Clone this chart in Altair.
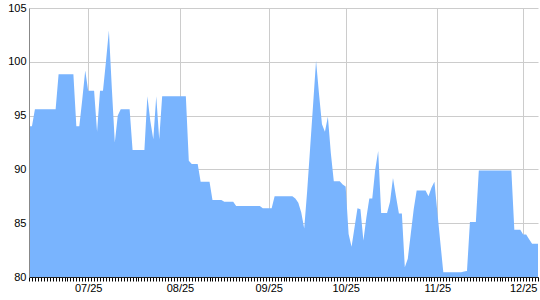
import altair as alt
import pandas as pd

values = [
    94.0, 94.0, 95.6, 95.6, 95.6, 95.6, 95.6, 95.6, 95.6, 95.6,
    98.85, 98.85, 98.85, 98.85, 98.85, 98.85, 94.0, 94.0, 96.5, 99.2,
    97.3, 97.3, 97.3, 93.5, 97.3, 97.3, 100.0, 102.9, 97.5, 92.5,
    95.0, 95.6, 95.6, 95.6, 95.6, 91.8, 91.8, 91.8, 91.8, 91.8,
    96.8, 94.5, 92.8, 96.8, 92.8, 96.8, 96.8, 96.8, 96.8, 96.8,
    96.8, 96.8, 96.8, 96.8, 90.8, 90.5, 90.5, 90.5, 88.85, 88.85,
    88.85, 88.85, 87.15, 87.15, 87.15, 87.15, 87.0, 87.0, 87.0, 87.0,
    86.6, 86.6, 86.6, 86.6, 86.6, 86.6, 86.6, 86.6, 86.6, 86.4,
    86.4, 86.4, 86.4, 87.5, 87.5, 87.5, 87.5, 87.5, 87.5, 87.5,
    87.3, 86.9, 86.0, 84.5, 88.0, 92.0, 96.0, 100.1, 97.0, 94.2,
    93.5, 94.9, 91.5, 88.9, 88.9, 88.9, 88.6, 88.4, 84.0, 82.8,
    84.6, 86.4, 86.3, 83.4, 85.5, 87.3, 87.3, 90.0, 91.7, 85.95,
    85.95, 85.95, 87.0, 89.2, 87.5, 85.9, 85.9, 80.9, 81.7, 84.0,
    86.3, 88.05, 88.05, 88.05, 88.05, 87.5, 88.3, 88.85, 86.0, 83.2,
    80.45, 80.45, 80.45, 80.45, 80.45, 80.45, 80.45, 80.5, 80.55, 85.1,
    85.1, 85.1, 89.9, 89.9, 89.9, 89.9, 89.9, 89.9, 89.9, 89.9,
    89.9, 89.9, 89.9, 89.9, 84.4, 84.4, 84.4, 83.95, 83.95, 83.5,
    83.1, 83.1, 83.1,
]
tick_idx = [20, 51, 81, 107, 138, 167]
tick_labels = ["07/25", "08/25", "09/25", "10/25", "11/25", "12/25"]
y_ticks = [80, 85, 90, 95, 100, 105]

df = pd.DataFrame({"i": list(range(len(values))), "v": values})

label_expr = " : ".join(
    f"datum.value == {i} ? '{l}'" for i, l in zip(tick_idx, tick_labels)
) + " : ''"

FONT = "Liberation Sans"
xs = alt.Scale(domain=[0, len(values) - 1], nice=False, zero=False)
ys = alt.Scale(domain=[80, 105], nice=False, zero=False)

grid_layer = alt.Chart(df).mark_area(color="#79b4fe", opacity=1, clip=True).encode(
    x=alt.X("i:Q", scale=xs, axis=alt.Axis(
        orient="bottom", values=tick_idx, grid=True, gridColor="#cccccc",
        gridWidth=1, domain=False, ticks=False, labels=False, title=None, zindex=0)),
    y=alt.Y("v:Q", scale=ys, axis=alt.Axis(
        orient="left", values=y_ticks, grid=True, gridColor="#cccccc",
        gridWidth=1, domain=False, ticks=False, labels=False, title=None, zindex=0)),
    y2=alt.datum(80),
)

axis_layer = alt.Chart(df).mark_point(opacity=0).encode(
    x=alt.X("i:Q", scale=xs, axis=alt.Axis(
        orient="bottom", values=list(range(len(values))), labelExpr=label_expr,
        labelOverlap=False, labelFlush=False, labelBound=False,
        tickSize=4, tickColor="#000000", domainColor="#222222", grid=False,
        labelFont=FONT, labelFontSize=11, labelColor="#000000", labelPadding=1,
        title=None, zindex=1)),
    y=alt.Y("v:Q", scale=ys, axis=alt.Axis(
        orient="left", values=y_ticks, ticks=False, domainColor="#888888",
        grid=False, labelFont=FONT, labelFontSize=11, labelColor="#000000",
        labelPadding=3, title=None, zindex=1)),
)

chart = alt.layer(grid_layer, axis_layer).resolve_axis(
    x="independent", y="independent"
).properties(
    width=509, height=269,
    autosize=alt.AutoSizeParams(type="none"),
    padding={"left": 29, "top": 8, "right": 2, "bottom": 23},
).configure_view(stroke=None)

chart.save("out.html", embed_options={"renderer": "svg", "actions": False})
